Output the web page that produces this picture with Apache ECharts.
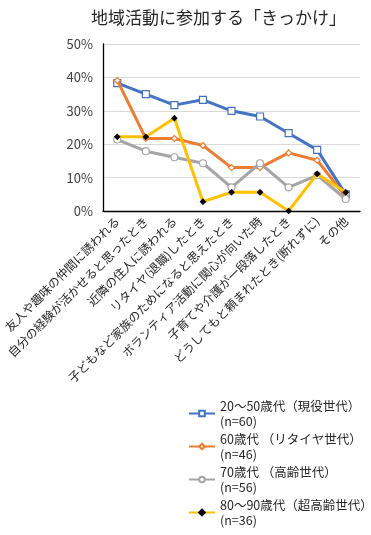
<!DOCTYPE html>
<html><head><meta charset="utf-8">
<script src="https://cdn.jsdelivr.net/npm/echarts@6/dist/echarts.min.js"></script>
<style>html,body{margin:0;padding:0;background:#fff}#c{width:371px;height:535px}</style>
</head><body><div id="c"></div>
<script>
const categories = ['友人や趣味の仲間に誘われる','自分の経験が活かせると思ったとき','近隣の住人に誘われる','リタイヤ(退職)したとき','子どもなど家族のためになると思えたとき','ボランティア活動に関心が向いた時','子育てや介護が一段落したとき','どうしてもと頼まれたとき(断れずに)','その他'];
const seriesNames = ['20～50歳代（現役世代）','60歳代 （リタイヤ世代）','70歳代 （高齢世代）','80～90歳代（超高齢世代）'];
const sampleSizes = ['(n=60)','(n=46)','(n=56)','(n=36)'];
const gen2050 = [38.3, 35.0, 31.7, 33.3, 30.0, 28.3, 23.3, 18.3, 5.0];
const gen60 = [39.1, 21.7, 21.7, 19.6, 13.0, 13.0, 17.4, 15.2, 4.3];
const gen70 = [21.4, 17.9, 16.1, 14.3, 7.1, 14.3, 7.1, 10.7, 3.6];
const gen8090 = [22.2, 22.2, 27.8, 2.8, 5.6, 5.6, 0.0, 11.1, 5.6];
const yTicks = [0, 10, 20, 30, 40, 50];

const font = '"Noto Sans CJK JP", "Noto Sans", sans-serif';
const chart = echarts.init(document.getElementById('c'), null, {renderer: 'canvas'});
const mk = (i, data, color, symbol, symSize, symColor, border) => ({
  name: seriesNames[i], type: 'line', data: data,
  symbol: symbol, symbolSize: symSize,
  lineStyle: {color: color, width: 3},
  itemStyle: {color: symColor, borderColor: border, borderWidth: 1.2},
  emphasis: {disabled: true}, z: 2 + i
});
chart.setOption({
  animation: false,
  textStyle: {fontFamily: font},
  title: {text: '地域活動に参加する「きっかけ」', left: 86, top: 4,
    textStyle: {fontSize: 17, fontWeight: 'normal', color: '#262626', fontFamily: font}},
  grid: {left: 103, right: 11, top: 44, bottom: 324, containLabel: false},
  xAxis: {type: 'category', data: categories, boundaryGap: true,
    axisLine: {lineStyle: {color: '#000', width: 1.3}}, axisTick: {show: false},
    axisLabel: {rotate: 45, interval: 0, fontSize: 12, color: '#262626', margin: 8, fontFamily: font}},
  yAxis: {type: 'value', min: yTicks[0], max: yTicks[yTicks.length-1], interval: 10,
    axisLine: {show: true, lineStyle: {color: '#000', width: 1.3}}, axisTick: {show: false},
    axisLabel: {formatter: '{value}%', fontSize: 13, color: '#404040', margin: 10, fontFamily: font},
    splitLine: {lineStyle: {color: '#d9d9d9', width: 1}}},
  legend: {orient: 'vertical', left: 183, top: 386, height: 149, itemWidth: 26, itemHeight: 7, itemGap: -12,
    data: seriesNames,
    formatter: name => name + '\n' + sampleSizes[seriesNames.indexOf(name)],
    textStyle: {fontSize: 12.5, color: '#262626', lineHeight: 15, padding: [15, 0, 0, 0], fontFamily: font}},
  series: [
    mk(0, gen2050, '#4472C4', 'rect', 7, '#fff', '#4472C4'),
    mk(1, gen60, '#ED7D31', 'diamond', 6, '#fff', '#ED7D31'),
    mk(2, gen70, '#A5A5A5', 'circle', 7, '#fff', '#A5A5A5'),
    mk(3, gen8090, '#FFC000', 'diamond', 5, '#000', '#000')
  ]
});
</script></body></html>
